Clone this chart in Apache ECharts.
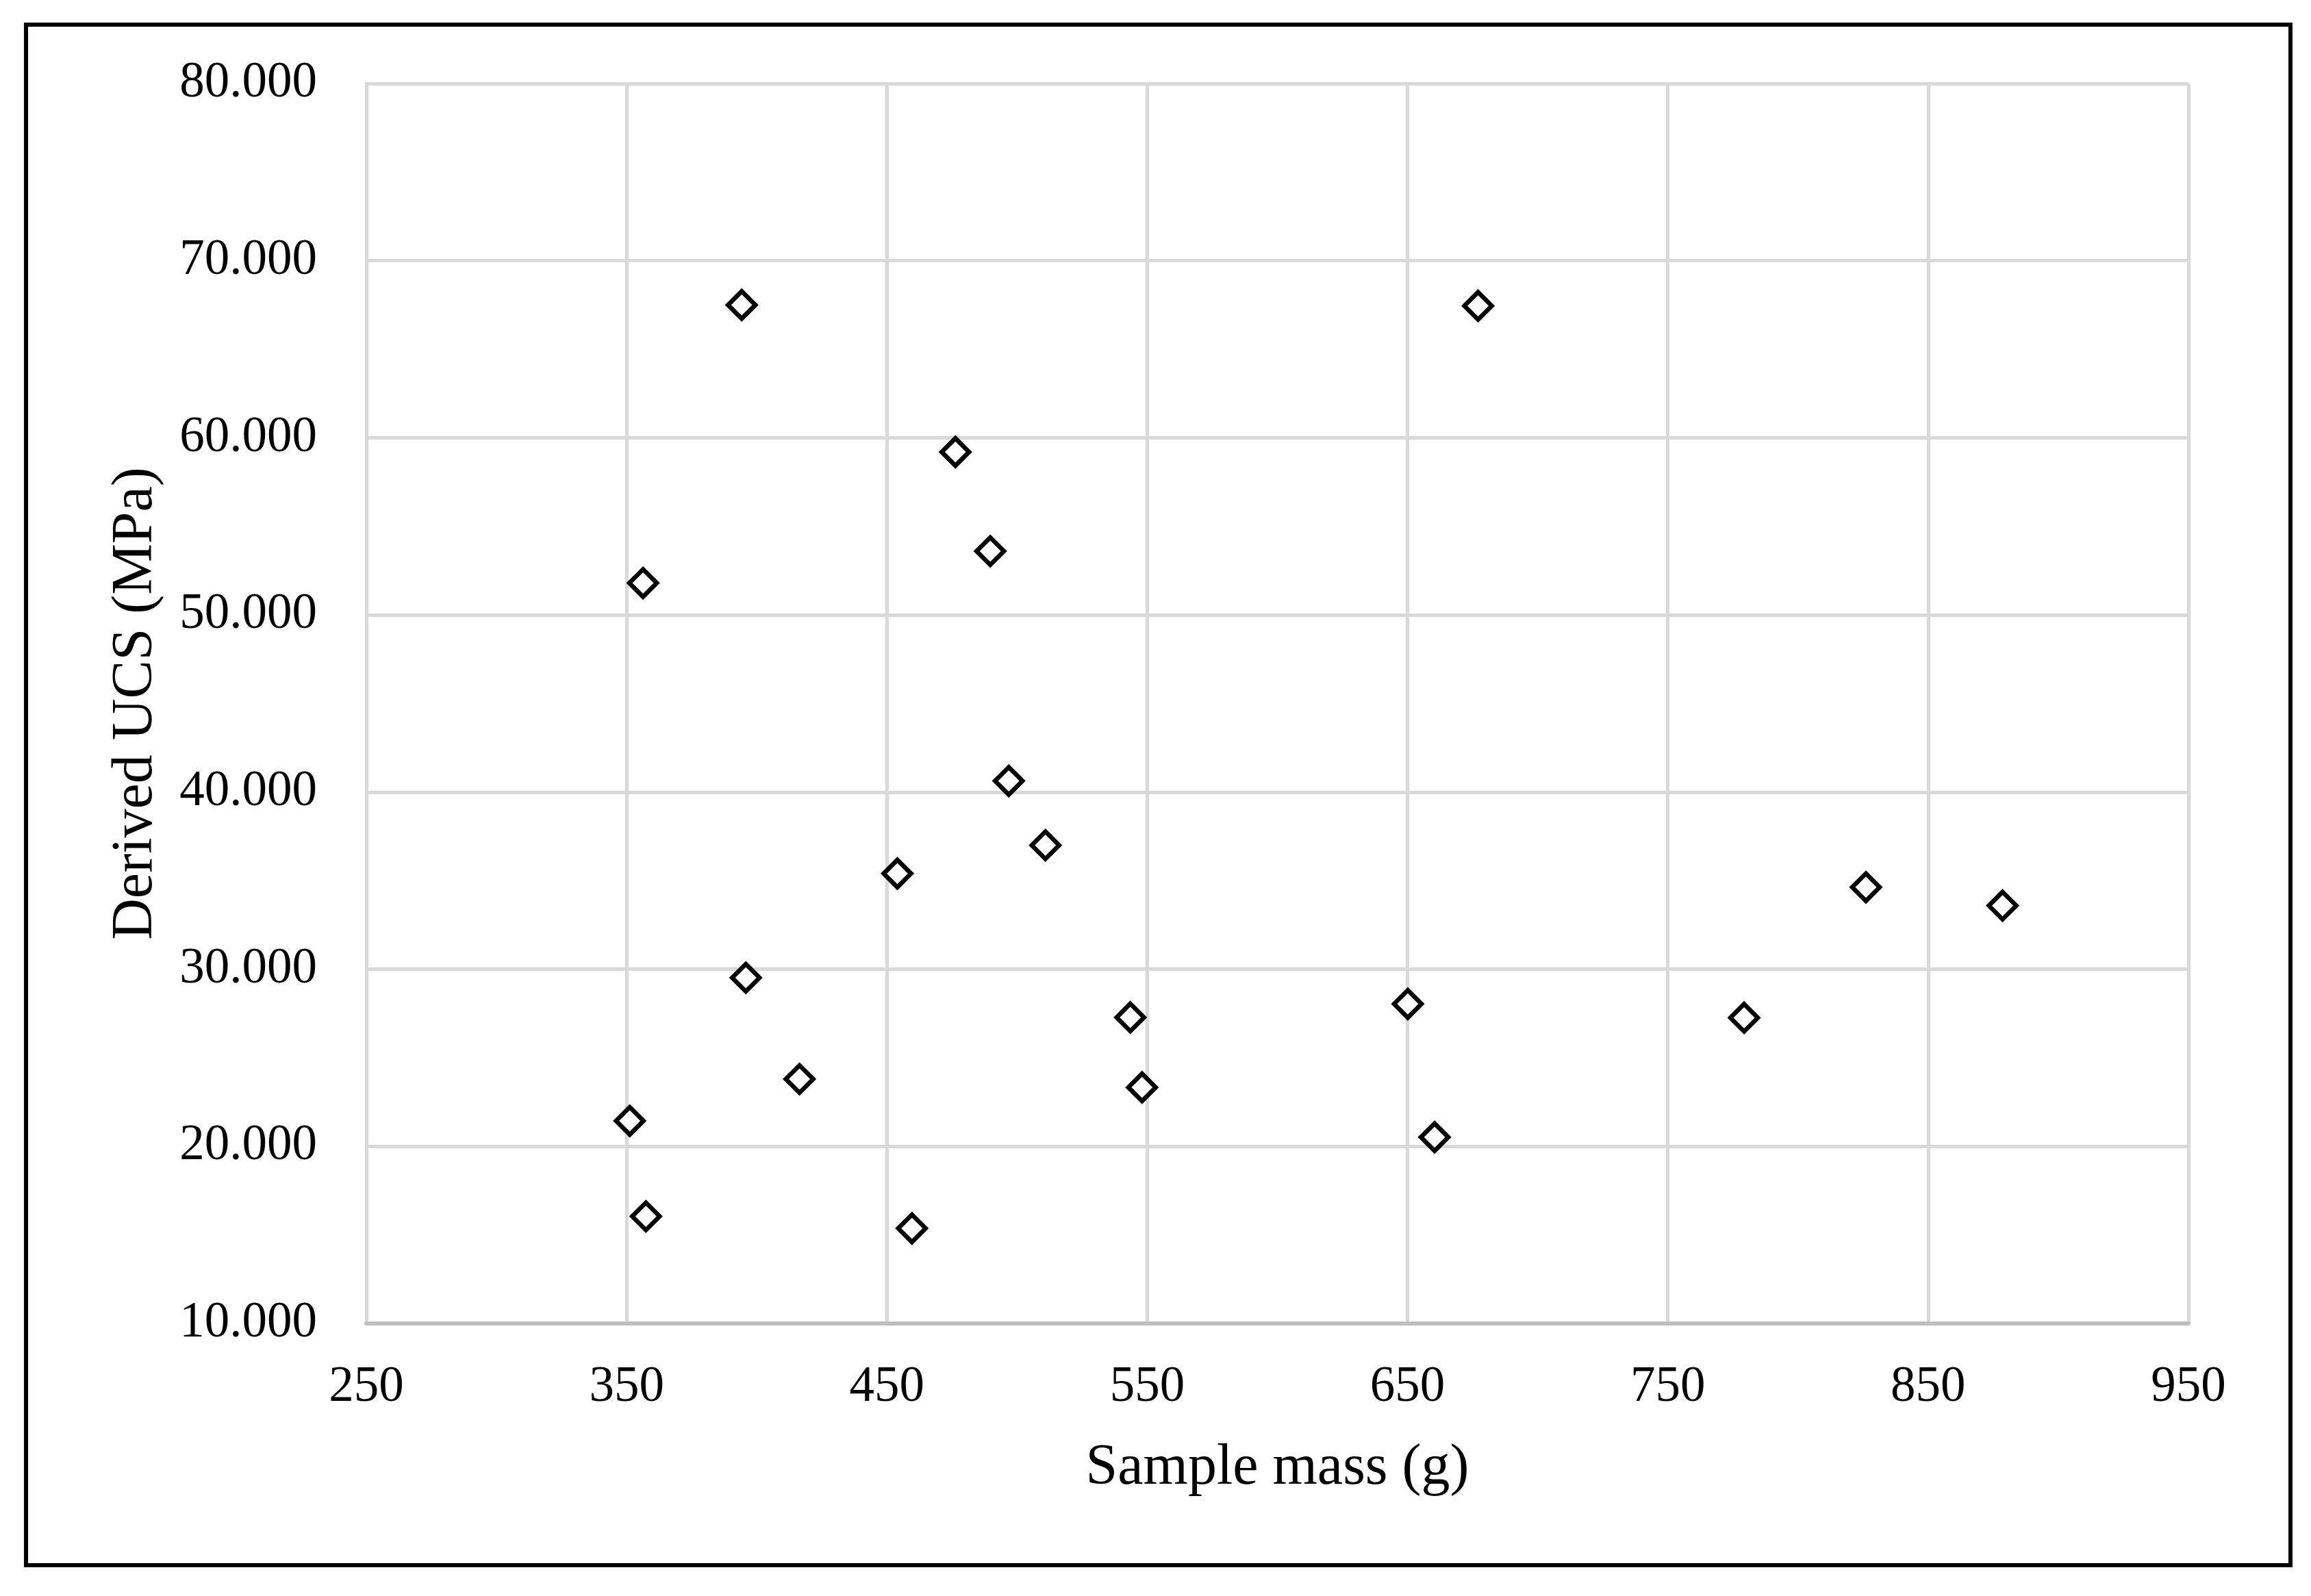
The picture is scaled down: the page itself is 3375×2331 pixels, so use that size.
<!DOCTYPE html>
<html>
<head>
<meta charset="utf-8">
<script src="https://cdn.jsdelivr.net/npm/echarts@6/dist/echarts.min.js"></script>
<style>
html,body{margin:0;padding:0;background:#fff;}
#chart{width:3375px;height:2331px;}
</style>
</head>
<body>
<div id="chart"></div>
<script>
// Sample mass (g)
const sampleMass = [394.2, 677.1, 476.3, 489.7, 356.3, 496.8, 510.9, 454.0, 826.1, 878.6,
                    395.8, 650.1, 543.5, 779.3, 416.4, 548.0, 351.2, 660.4, 357.4, 459.6];
// Derived UCS (MPa)
const derivedUCS = [67.5, 67.45, 59.2, 53.6, 51.8, 40.63, 37.0, 35.4, 34.63, 33.59,
                    29.52, 28.04, 27.28, 27.26, 23.8, 23.33, 21.44, 20.52, 16.05, 15.37];
const xAxisTitle = 'Sample mass (g)';
const yAxisTitle = 'Derived UCS (MPa)';

const points = sampleMass.map((m, i) => [m, derivedUCS[i]]);
const FONT = '"Liberation Serif", "Times New Roman", serif';

const chart = echarts.init(document.getElementById('chart'), null, {renderer: 'canvas'});
chart.setOption({
  backgroundColor: '#ffffff',
  animation: false,
  grid: {left: 535, top: 122, right: 179, bottom: 398, containLabel: false},
  xAxis: {
    type: 'value', min: 250, max: 950, interval: 100,
    name: xAxisTitle, nameLocation: 'middle', nameGap: 170,
    nameTextStyle: {fontFamily: FONT, fontSize: 84, color: '#000'},
    axisLine: {show: true, lineStyle: {color: '#bfbfbf', width: 6}},
    axisTick: {show: false},
    axisLabel: {fontFamily: FONT, fontSize: 73, color: '#000', margin: 57},
    splitLine: {show: true, lineStyle: {color: '#d9d9d9', width: 5}}
  },
  yAxis: {
    type: 'value', min: 10, max: 80, interval: 10,
    name: yAxisTitle, nameLocation: 'middle', nameGap: 294,
    nameTextStyle: {fontFamily: FONT, fontSize: 84, color: '#000'},
    axisLine: {show: true, lineStyle: {color: '#d9d9d9', width: 5}},
    axisTick: {show: false},
    axisLabel: {fontFamily: FONT, fontSize: 73, color: '#000', margin: 72,
      padding: [14, 0, 0, 0],
      formatter: v => v.toFixed(3)},
    splitLine: {show: true, lineStyle: {color: '#d9d9d9', width: 5}}
  },
  series: [{
    type: 'scatter',
    data: points,
    symbol: 'diamond',
    symbolSize: 40,
    itemStyle: {color: '#ffffff', borderColor: '#000000', borderWidth: 6.5, opacity: 1},
    z: 5
  }],
  graphic: [{
    type: 'rect',
    shape: {x: 38, y: 36, width: 3307, height: 2250},
    style: {fill: 'none', stroke: '#000', lineWidth: 6},
    z: 100, silent: true
  }]
});
</script>
</body>
</html>
